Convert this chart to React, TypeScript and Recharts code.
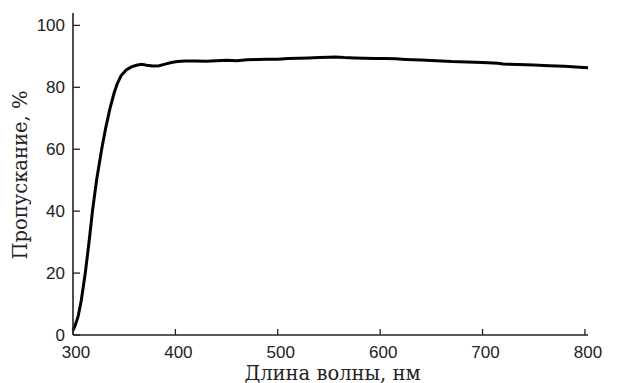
import React from 'react';
import { LineChart, Line, XAxis, YAxis } from 'recharts';

// wavelength (nm) and transmittance (%)
const wavelengths = [
  300, 302, 305, 308, 312, 316, 319, 323, 328, 332, 336, 340, 343, 347, 352, 357, 362, 367,
  372, 378, 384, 390, 396, 402, 410, 420, 430, 440, 450, 460, 470, 480, 490, 500, 510, 520,
  530, 540, 550, 556, 565, 575, 585, 595, 605, 615, 625, 640, 655, 670, 685, 700, 715, 720,
  735, 750, 765, 780, 795, 803,
];
const transmission = [
  1.5, 3, 6, 11, 20, 31, 40, 50, 60, 67, 73, 78, 81, 83.8, 85.6, 86.6, 87.1, 87.4,
  87.1, 86.9, 87.0, 87.5, 88.0, 88.3, 88.5, 88.5, 88.4, 88.6, 88.7, 88.6, 88.9, 89.0, 89.1, 89.1, 89.3, 89.4,
  89.5, 89.6, 89.7, 89.8, 89.6, 89.5, 89.4, 89.3, 89.3, 89.2, 89.0, 88.8, 88.6, 88.3, 88.2, 88.0, 87.8, 87.5,
  87.4, 87.2, 87.0, 86.8, 86.5, 86.3,
];
const xTicks = [300, 400, 500, 600, 700, 800];
const yTicks = [0, 20, 40, 60, 80, 100];

const data = wavelengths.map((w, i) => ({ w, t: transmission[i] }));

const W = 614;
const H = 375;
const margin = { top: 5, right: 34, left: 0, bottom: 0 };
const Y_AXIS_W = 65;
const X_AXIS_H = 48;
const PLOT_LEFT = margin.left + Y_AXIS_W;
const PLOT_BOTTOM = H - margin.bottom - X_AXIS_H;

const tickFont = '"Liberation Sans Narrow", "Liberation Sans", Arial, sans-serif';
const titleFont = '"DejaVu Serif", "Liberation Serif", serif';
const ink = '#222';

const YTick = (props: any) => {
  const { y, payload } = props;
  return (
    <g>
      <line x1={PLOT_LEFT} x2={PLOT_LEFT + 7} y1={y} y2={y} stroke={ink} strokeWidth={1.3} />
      <text x={PLOT_LEFT - 8} y={y} textAnchor="end" dominantBaseline="central"
        fontFamily={tickFont} fontSize={17} fill={ink}>
        {payload.value}
      </text>
    </g>
  );
};

const XTick = (props: any) => {
  const { x, payload } = props;
  return (
    <g>
      <line x1={x} x2={x} y1={PLOT_BOTTOM} y2={PLOT_BOTTOM - 6} stroke={ink} strokeWidth={1.3} />
      <text x={x + 3} y={PLOT_BOTTOM + 17} textAnchor="middle" dominantBaseline="central"
        fontFamily={tickFont} fontSize={17} fill={ink}>
        {payload.value}
      </text>
    </g>
  );
};

const XTitle = (props: any) => {
  const { viewBox } = props;
  const cx = viewBox.x + viewBox.width / 2;
  return (
    <text x={cx + 2} y={H - 10} textAnchor="middle" dominantBaseline="central"
      fontFamily={titleFont} fontSize={19.5} fill={ink}>
      Длина волны, нм
    </text>
  );
};

const YTitle = (props: any) => {
  const { viewBox } = props;
  const cx = 12;
  const cy = viewBox.y + viewBox.height / 2 + 1;
  return (
    <text x={cx} y={cy} transform={`rotate(-90, ${cx}, ${cy})`} textAnchor="middle"
      dominantBaseline="central" fontFamily={titleFont} fontSize={19.5} fill={ink}>
      Пропускание, %
    </text>
  );
};

export default function App() {
  return (
    <div style={{ width: W, height: H, background: '#fff' }}>
      <LineChart width={W} height={H} data={data} margin={margin}>
        <XAxis
          dataKey="w"
          type="number"
          domain={[300, 800]}
          ticks={xTicks}
          height={X_AXIS_H}
          tickLine={false}
          axisLine={{ stroke: ink, strokeWidth: 1.6 }}
          tick={<XTick />}
          interval={0}
          label={<XTitle />}
        />
        <YAxis
          type="number"
          domain={[0, 104]}
          ticks={yTicks}
          width={Y_AXIS_W}
          tickLine={false}
          axisLine={{ stroke: ink, strokeWidth: 1.6 }}
          tick={<YTick />}
          interval={0}
          label={<YTitle />}
        />
        <Line
          type="linear"
          dataKey="t"
          stroke="#000"
          strokeWidth={3}
          dot={false}
          isAnimationActive={false}
        />
      </LineChart>
    </div>
  );
}
